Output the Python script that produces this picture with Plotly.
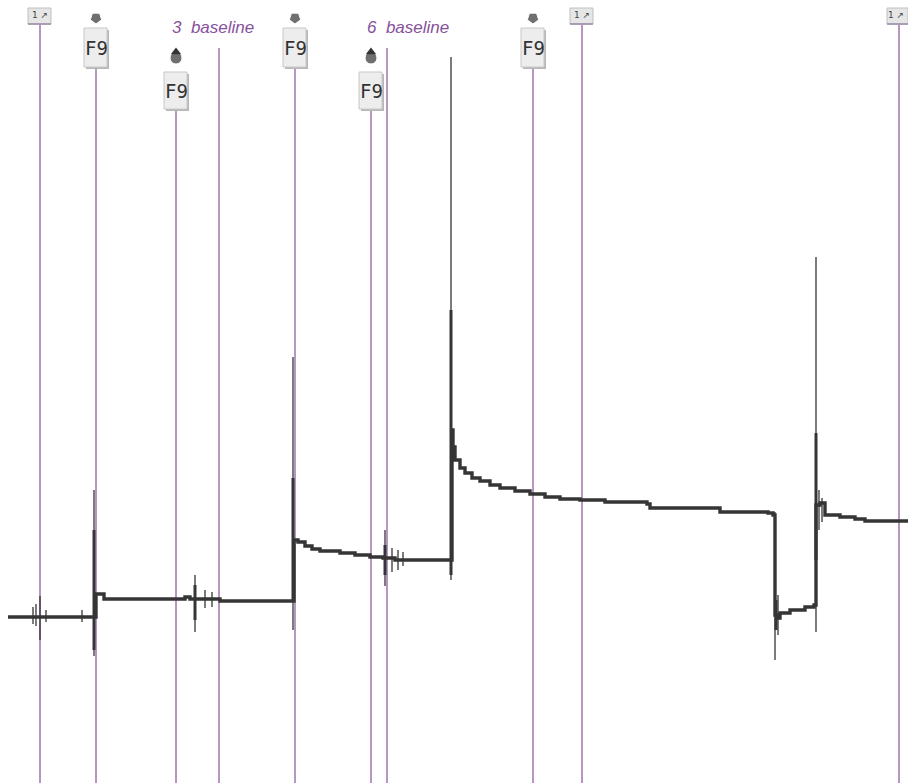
import plotly.graph_objects as go

# ---- Recorded trace (time in sample units, signal in screen-depth units; axis reversed) ----
trace_t = [8, 30, 94, 95, 96, 103, 104, 180, 185, 190, 220, 292, 294, 298, 305, 312, 320, 340,
           355, 370, 383, 395, 450, 452, 453, 455, 460, 465, 472, 480, 490, 500, 515, 530, 545,
           560, 580, 605, 647, 650, 705, 720, 768, 773, 775, 778, 780, 790, 805, 814, 816, 820,
           825, 840, 855, 865, 908]
trace_v = [617, 617, 617, 617, 594, 594, 599, 599, 597, 599, 601, 601, 540, 542, 546, 549, 551, 553,
           555, 557, 558, 560, 560, 430, 447, 460, 468, 473, 478, 481, 485, 488, 491, 494, 497,
           499, 500, 502, 504, 508, 508, 512, 513, 515, 615, 618, 613, 610, 607, 605, 505, 503,
           515, 517, 519, 521, 522]

# transient artefacts: time, low, high
spike_t = [33, 36, 40, 46, 82, 94, 195, 205, 212, 293, 385, 392, 398, 403, 451, 775, 778, 816, 819, 822]
spike_lo = [607, 604, 596, 610, 610, 490, 575, 590, 592, 357, 530, 548, 550, 552, 57, 512, 595, 257, 490, 498]
spike_hi = [624, 626, 640, 622, 622, 656, 632, 608, 607, 630, 586, 572, 570, 566, 580, 660, 635, 632, 530, 522]

core_t = [94, 195, 293, 385, 451, 776, 816]
core_lo = [530, 585, 478, 545, 310, 600, 433]
core_hi = [650, 620, 600, 575, 575, 630, 560]

# ---- Event marks ----
f9_t = [96, 176, 295, 371, 533]
f9_row = [0, 1, 0, 1, 0]          # 0 = upper row, 1 = lower row
mark1_t = [40, 582, 899]
baseline_t = [219, 387]
baseline_label = ["3  baseline", "6  baseline"]
baseline_label_t = [213, 408]

purple = "rgb(135,80,155)"
dark = "#353535"

fig = go.Figure()

def vsegs(xs, lo, hi):
    X, Y = [], []
    for x, a, b in zip(xs, lo, hi):
        X += [x, x, None]
        Y += [a, b, None]
    return X, Y

# purple event lines
line_x, line_lo = [], []
for t in mark1_t:
    line_x.append(t); line_lo.append(25)
for t, r in zip(f9_t, f9_row):
    line_x.append(t); line_lo.append(68 if r == 0 else 110)
for t in baseline_t:
    line_x.append(t); line_lo.append(48)
X, Y = vsegs(line_x, line_lo, [783] * len(line_x))
fig.add_trace(go.Scatter(x=X, y=Y, mode="lines", line=dict(color=purple, width=1.2),
                         hoverinfo="skip", showlegend=False))

# thin spikes
X, Y = vsegs(spike_t, spike_lo, spike_hi)
fig.add_trace(go.Scatter(x=X, y=Y, mode="lines", line=dict(color=dark, width=1.3),
                         hoverinfo="skip", showlegend=False))
# thick spike cores
X, Y = vsegs(core_t, core_lo, core_hi)
fig.add_trace(go.Scatter(x=X, y=Y, mode="lines", line=dict(color=dark, width=3),
                         hoverinfo="skip", showlegend=False))
# main trace (staircase look of the recorder)
fig.add_trace(go.Scatter(x=trace_t, y=trace_v, mode="lines",
                         line=dict(color=dark, width=3.4, shape="hv"),
                         hoverinfo="skip", showlegend=False))

shapes = []
annotations = []

# F9 boxes
drop_x, drop_y, drop_sym, drop_size = [], [], [], []
for t, r in zip(f9_t, f9_row):
    top = 28 if r == 0 else 72
    bot = 68 if r == 0 else 110
    shapes.append(dict(type="rect", xref="x", yref="y", x0=t - 10, x1=t + 13, y0=top + 2, y1=bot + 1,
                       fillcolor="#b8b8b8", line=dict(width=0), layer="above"))
    shapes.append(dict(type="rect", xref="x", yref="y", x0=t - 12, x1=t + 11, y0=top, y1=bot - 1,
                       fillcolor="#ededed", line=dict(color="#c8c8c8", width=1), layer="above"))
    annotations.append(dict(x=t, y=(top + bot) / 2, xref="x", yref="y", text="F9", showarrow=False,
                            font=dict(family="DejaVu Sans Mono", size=19, color="#333333")))
    drop_x.append(t)
    drop_y.append(18 if r == 0 else 58)
    drop_sym.append("pentagon" if r == 0 else "circle")
    drop_size.append(12 if r == 0 else 12)
fig.add_trace(go.Scatter(x=drop_x, y=drop_y, mode="markers",
                         marker=dict(symbol=drop_sym, size=drop_size, color="#333333",
                                     angle=[180 if s == "pentagon" else 0 for s in drop_sym]),
                         hoverinfo="skip", showlegend=False))
# taller look for lower-row drops
fig.add_trace(go.Scatter(x=[t for t, r in zip(f9_t, f9_row) if r == 1],
                         y=[52 for r in f9_row if r == 1], mode="markers",
                         marker=dict(symbol="triangle-up", size=9, color="#333333"),
                         hoverinfo="skip", showlegend=False))

# "1" marks
for t in mark1_t:
    shapes.append(dict(type="rect", xref="x", yref="y", x0=t - 12, x1=min(t + 11, 908), y0=8, y1=24,
                       fillcolor="#e6e6e6", line=dict(color="#c0c0c0", width=1), layer="above"))
    shapes.append(dict(type="line", xref="x", yref="y", x0=t - 12, x1=min(t + 11, 908), y0=24, y1=24,
                       line=dict(color="#9a88a8", width=1.5), layer="above"))
    annotations.append(dict(x=min(t, 896), y=15, xref="x", yref="y", text="1 ↗", showarrow=False,
                            font=dict(family="DejaVu Sans", size=9, color="#444444")))

# baseline labels
for lt, lab in zip(baseline_label_t, baseline_label):
    annotations.append(dict(x=lt, y=27, xref="x", yref="y", text="<i>" + lab + "</i>", showarrow=False,
                            font=dict(family="Liberation Sans", size=17, color=purple)))

fig.update_layout(
    width=908, height=783,
    margin=dict(l=0, r=0, t=0, b=0),
    paper_bgcolor="white", plot_bgcolor="white",
    xaxis=dict(range=[0, 908], visible=False, fixedrange=True),
    yaxis=dict(range=[783, 0], visible=False, fixedrange=True),
    shapes=shapes, annotations=annotations,
)

fig.write_html("out.html", config={"displayModeBar": False, "staticPlot": True},
               post_script="document.body.style.margin='0';document.body.style.overflow='hidden';")
